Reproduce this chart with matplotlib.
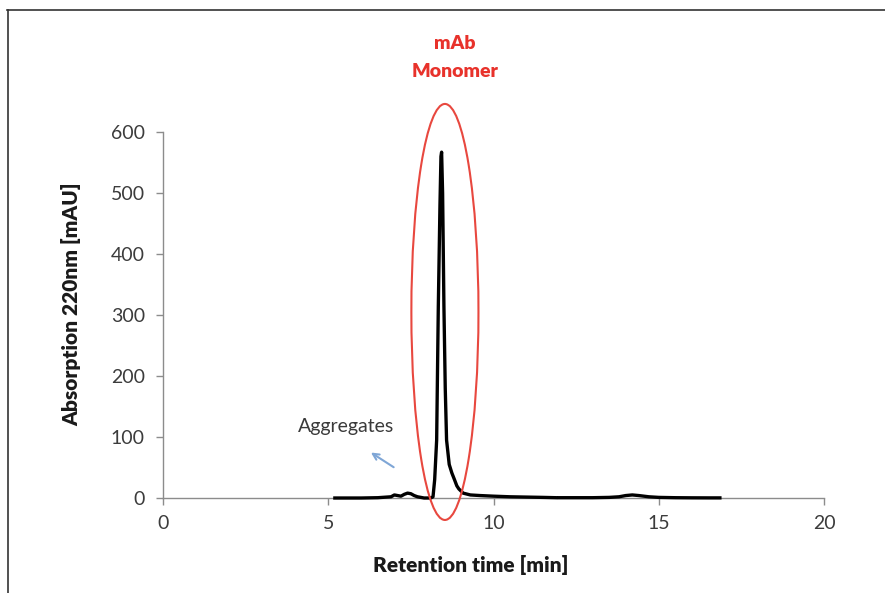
import numpy as np
import matplotlib
matplotlib.use("Agg")
import matplotlib.pyplot as plt
from matplotlib.patches import Ellipse, FancyArrowPatch
from matplotlib.lines import Line2D

plt.rcParams['font.family'] = ['Lato', 'DejaVu Sans']

# chromatogram (retention time [min], absorption [mAU])
time_min = [5.2, 6.0, 6.5, 6.9, 7.0, 7.1, 7.2, 7.3, 7.4, 7.5, 7.6, 7.7, 7.8, 7.9, 8.0, 8.1,
            8.17, 8.22, 8.28, 8.33, 8.38, 8.41, 8.43, 8.46, 8.5, 8.54, 8.58, 8.66, 8.74,
            8.82, 8.89, 8.95, 9.08, 9.3, 9.6, 10.0, 10.5, 11.0, 11.5, 11.9,
            11.95,
            12.0, 12.5, 13.0, 13.5, 13.8, 14.0, 14.2, 14.4, 14.7, 15.0, 15.5, 16.0, 16.5, 16.85]
absorb_mau = [0, 0, 0.5, 2, 5, 4, 3, 6, 8, 7, 4, 2, 1, 0, 0, 0,
              2, 30, 95, 314, 480, 560, 567, 500, 314, 180, 95, 55, 41,
              30, 20, 15, 8, 5, 4, 3, 2, 1.5, 1, 0.5,
              np.nan,
              0.5, 0.5, 0.5, 1, 2, 4, 5, 4, 2, 1, 0.5, 0.3, 0.2, 0.2]

x_ticks = [0, 5, 10, 15, 20]
y_ticks = [0, 100, 200, 300, 400, 500, 600]

W, H = 885, 593
fig = plt.figure(figsize=(W / 100, H / 100), dpi=100)
ax = fig.add_axes([163 / W, 1 - 498 / H, (824 - 163) / W, (498 - 132) / H])

ax.plot(time_min, absorb_mau, color='black', lw=2.4, zorder=3, clip_on=False)

ax.set_xlim(0, 20)
ax.set_ylim(0, 600)
ax.set_xticks(x_ticks)
ax.set_yticks(y_ticks)

axis_col = '#8c8c8c'
text_col = '#3c3c3c'
for s in ['top', 'right']:
    ax.spines[s].set_visible(False)
for s in ['left', 'bottom']:
    ax.spines[s].set_color(axis_col)
    ax.spines[s].set_linewidth(1.0)
ax.tick_params(axis='both', direction='out', length=5, color=axis_col, width=1.0,
               labelsize=14, labelcolor=text_col)
ax.tick_params(axis='x', pad=7)
ax.tick_params(axis='y', pad=8)

ax.set_xlabel('Retention time [min]', fontsize=15, fontweight='heavy', color='#1a1a1a', labelpad=9)
ax.xaxis.set_label_coords(0.465, -0.155)
ax.set_ylabel('Absorption 220nm [mAU]', fontsize=15, fontweight='heavy', color='#1a1a1a')
ax.yaxis.set_label_coords(-0.124, 0.53)

# ellipse around monomer peak
ell = Ellipse((8.53, 305), width=2.03, height=682, fill=False, edgecolor='#e8483f',
              lw=1.5, clip_on=False, zorder=4)
ax.add_patch(ell)

ax.text(8.83, 745, 'mAb', color='#e8322b', fontsize=14, fontweight='heavy', ha='center', va='center')
ax.text(8.83, 699, 'Monomer', color='#e8322b', fontsize=14, fontweight='heavy', ha='center', va='center')

ax.text(5.55, 117, 'Aggregates', color='#3a3a3a', fontsize=14, ha='center', va='center')
arr = FancyArrowPatch((7.05, 48), (6.22, 77), arrowstyle='->', mutation_scale=11,
                      color='#7fa6d6', lw=1.5)
ax.add_patch(arr)

# outer frame (top and left)
fig.add_artist(Line2D([7 / W, 1.0], [1 - 10 / H, 1 - 10 / H], color='#333333', lw=1.2))
fig.add_artist(Line2D([8 / W, 8 / W], [0, 1 - 10 / H], color='#333333', lw=1.2))

fig.savefig('out.png', dpi=100)
